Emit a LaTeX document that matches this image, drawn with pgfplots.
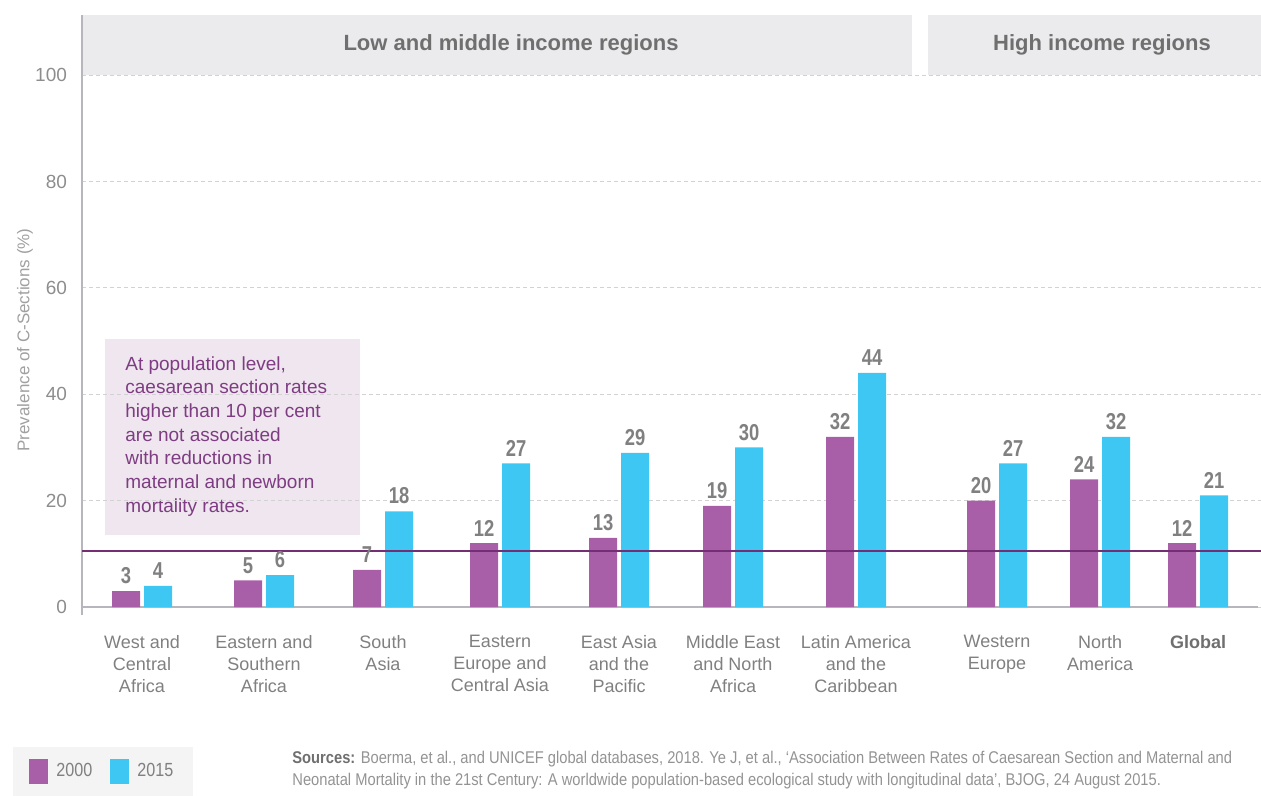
\documentclass[border=0pt]{standalone}
\usepackage{pgfplots}
\pgfplotsset{compat=1.18}
\usepackage{fontspec}
\setmainfont{Liberation Sans}
\newfontfamily\cond[FakeStretch=0.8]{Liberation Sans}
\newfontfamily\condb[FakeStretch=0.865]{Liberation Sans}
\newfontfamily\condl[FakeStretch=0.85]{Liberation Sans}
\definecolor{morado}{HTML}{A95FA8}
\definecolor{celeste}{HTML}{3DC7F2}
\definecolor{linea}{HTML}{742F74}
\definecolor{caja}{HTML}{EFE6EF}
\definecolor{textocaja}{HTML}{7E3D82}
\definecolor{banda}{HTML}{EBEBED}
\definecolor{gristxt}{HTML}{808080}
\definecolor{grisosc}{HTML}{6F6F6F}
\definecolor{ejes}{HTML}{B6B6BC}
\definecolor{rejilla}{HTML}{D2D2D2}
\definecolor{fondoley}{HTML}{F4F4F4}

\begin{document}
\begin{tikzpicture}[x=0.5pt,y=-0.5pt]
\path[use as bounding box] (0,0) rectangle (1261,796);
% recuadro con la nota
\fill[caja] (105,339) rectangle (360,535);
\node[anchor=north west,align=left,text=textocaja,font=\fontsize{9.5}{11.85}\selectfont,inner sep=0pt] at (125,356)
  {At population level,\\caesarean section rates\\higher than 10 per cent\\are not associated\\with reductions in\\maternal and newborn\\mortality rates.};
\node[rotate=90,text=gristxt!75,font=\fontsize{8.5}{10}\selectfont] at (25,340) {Prevalence of C-Sections (\%)};
\begin{axis}[at={(41pt,-307.5pt)},anchor=south west,scale only axis,width=589.5pt,height=300pt,
  xmin=82,xmax=1261,ymin=-1.5,ymax=111.3,clip=false,
  /pgf/number format/assume math mode=true,
  axis lines*=left,x axis line style={draw=none},y axis line style={ejes,line width=1pt},
  major tick length=0pt,
  ytick={0,20,...,100},ymajorgrids,grid style={rejilla,dash pattern=on 2pt off 1.5pt,line width=0.5pt},
  yticklabel style={font=\fontsize{9.5}{11}\selectfont,text=gristxt!90,xshift=-4pt},
  xtick={142,264,383,500,619,733,856,997,1100,1198},
  xticklabels={{West and\\Central\\Africa},{Eastern and\\Southern\\Africa},{South\\Asia},{Eastern\\Europe and\\Central Asia},{East Asia\\and the\\Pacific},{Middle East\\and North\\Africa},{Latin America\\and the\\Caribbean},{Western\\Europe},{North\\America},{\textbf{\color{grisosc}Global}}},
  xticklabel style={align=center,font=\fontsize{9}{11}\selectfont,text=gristxt,yshift=-6.5pt},
  ybar,bar width=14pt,
  nodes near coords,nodes near coords style={font=\cond\bfseries\fontsize{11.5}{13}\selectfont,text=gristxt},
  legend columns=2,
  legend style={at={(-0.0585,-0.3017)},anchor=south west,fill=fondoley,draw=none,
    font=\condl\fontsize{9.5}{11}\selectfont,text=gristxt,inner xsep=8pt,inner ysep=6pt,
    /tikz/every odd column/.append style={column sep=2pt},
    /tikz/every even column/.append style={column sep=7pt}},
  legend image code/.code={\fill[#1,draw=none] (0pt,-6.25pt) rectangle (9.5pt,6.25pt);},
]
\fill[banda] (axis cs:83,100) rectangle (axis cs:912,111.3);
\fill[banda] (axis cs:928,100) rectangle (axis cs:1261,111.3);
\node[font=\bfseries\fontsize{11}{13}\selectfont,text=grisosc] at (axis cs:511,105.7) {Low and middle income regions};
\node[font=\bfseries\fontsize{11}{13}\selectfont,text=grisosc] at (axis cs:1102,105.7) {High income regions};
\draw[ejes,line width=1pt] (axis cs:82,0) -- (axis cs:1258,0);
\addplot[fill=morado,draw=none] coordinates {(142,3)(264,5)(383,7)(500,12)(619,13)(733,19)(856,32)(997,20)(1100,24)(1198,12)};
\addplot[fill=celeste,draw=none] coordinates {(142,4)(264,6)(383,18)(500,27)(619,29)(733,30)(856,44)(997,27)(1100,32)(1198,21)};
\legend{2000,2015}
\draw[linea,line width=1.2pt] (axis cs:82,10.5) -- (axis cs:1261,10.5);
\end{axis}
\node[anchor=north west,align=left,text=gristxt!85,font=\condb\fontsize{8.5}{11}\selectfont,inner sep=0pt] at (292,751)
  {{\bfseries\color{grisosc}Sources:} Boerma, et al., and UNICEF global databases, 2018. Ye J, et al., ‘Association Between Rates of Caesarean Section and Maternal and\\Neonatal Mortality in the 21st Century: A worldwide population-based ecological study with longitudinal data’, BJOG, 24 August 2015.};
\end{tikzpicture}
\end{document}
